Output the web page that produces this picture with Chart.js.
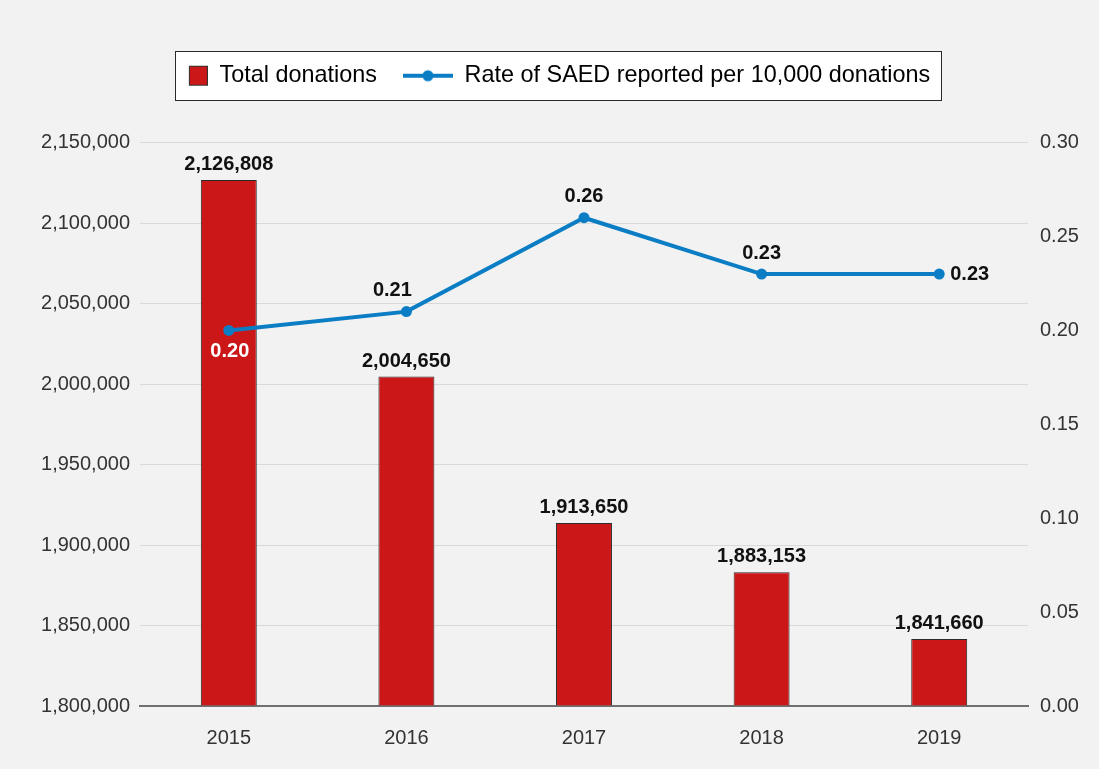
<!DOCTYPE html>
<html>
<head>
<meta charset="utf-8">
<title>Total donations and SAED rate</title>
<script src="https://cdn.jsdelivr.net/npm/chart.js@4/dist/chart.umd.min.js"></script>
<style>
    html, body { margin: 0; padding: 0; background: #f2f2f2; }
    #wrap { width: 1099px; height: 769px; }
</style>
</head>
<body>
<div id="wrap"><canvas id="donationsChart" width="1099" height="769"></canvas></div>
<script>
// Dados
const years = ['2015', '2016', '2017', '2018', '2019'];
const totalDonations = [2126808, 2004650, 1913650, 1883153, 1841660];
const saedRate = [0.20, 0.21, 0.26, 0.23, 0.23];

// Eixos
const leftAxisMin = 1800000;
const leftAxisMax = 2150000;
const leftAxisStep = 50000;
const rightAxisMin = 0;
const rightAxisMax = 0.30;
const rightAxisStep = 0.05;

// Cores e estilos
const barRed = '#cc1719';
const lineBlue = '#0a7dc4';
const fontFamily = '"Liberation Sans", Arial, Helvetica, sans-serif';

// Onde fica o rótulo de cada ponto da linha
const rateLabelPlacement = ['below', 'above', 'above', 'above', 'right'];

// Ícones da legenda
function rectIcon() {
    const c = document.createElement('canvas');
    c.width = 50; c.height = 22;
    const g = c.getContext('2d');
    g.fillStyle = barRed;
    g.fillRect(31, 1, 19, 20);
    g.strokeStyle = '#333';
    g.lineWidth = 1;
    g.strokeRect(31.5, 1.5, 18, 19);
    return c;
}
function lineIcon() {
    const c = document.createElement('canvas');
    c.width = 50; c.height = 22;
    const g = c.getContext('2d');
    g.strokeStyle = lineBlue;
    g.lineWidth = 4;
    g.beginPath();
    g.moveTo(0, 11); g.lineTo(50, 11);
    g.stroke();
    g.fillStyle = lineBlue;
    g.beginPath();
    g.arc(25, 11, 5.5, 0, Math.PI * 2);
    g.fill();
    return c;
}

// Fundo e caixa da legenda
const backgroundPlugin = {
    id: 'backgroundPlugin',
    beforeDraw(chart) {
        const ctx = chart.ctx;
        ctx.save();
        ctx.fillStyle = '#f2f2f2';
        ctx.fillRect(0, 0, chart.width, chart.height);
        const hits = chart.legend && chart.legend.legendHitBoxes;
        if (hits && hits.length) {
            const first = hits[0];
            const last = hits[hits.length - 1];
            const left = first.left + 31 - 14;
            const right = last.left + last.width + 11;
            const cy = first.top + first.height / 2;
            ctx.fillStyle = '#ffffff';
            ctx.fillRect(left, cy - 24.5, right - left, 49);
            ctx.strokeStyle = '#2a2a2a';
            ctx.lineWidth = 1;
            ctx.strokeRect(Math.round(left) + 0.5, Math.round(cy - 24.5) + 0.5, Math.round(right - left), 49);
        }
        ctx.restore();
    }
};

// Rótulos de valores
const valueLabelsPlugin = {
    id: 'valueLabelsPlugin',
    afterDatasetsDraw(chart) {
        const ctx = chart.ctx;
        ctx.save();
        ctx.font = 'bold 20px ' + fontFamily;
        ctx.fillStyle = '#111';
        ctx.textAlign = 'center';
        ctx.textBaseline = 'alphabetic';
        chart.getDatasetMeta(0).data.forEach((bar, i) => {
            ctx.fillText(totalDonations[i].toLocaleString('en-US'), bar.x, bar.y - 10);
        });
        ctx.textBaseline = 'middle';
        chart.getDatasetMeta(1).data.forEach((pt, i) => {
            const txt = saedRate[i].toFixed(2);
            const where = rateLabelPlacement[i];
            if (where === 'below') {
                ctx.fillStyle = '#ffffff';
                ctx.textAlign = 'center';
                ctx.fillText(txt, pt.x + 1, pt.y + 21);
            } else if (where === 'right') {
                ctx.fillStyle = '#111';
                ctx.textAlign = 'left';
                ctx.fillText(txt, pt.x + 11, pt.y);
            } else {
                ctx.fillStyle = '#111';
                ctx.textAlign = 'center';
                const dx = i === 1 ? -14 : 0;
                ctx.fillText(txt, pt.x + dx, pt.y - 21);
            }
        });
        ctx.restore();
    }
};

const ctx = document.getElementById('donationsChart').getContext('2d');
new Chart(ctx, {
    type: 'bar',
    data: {
        labels: years,
        datasets: [{
            type: 'bar',
            label: 'Total donations',
            data: totalDonations,
            backgroundColor: barRed,
            borderColor: '#2a2a2a',
            borderWidth: 1,
            base: leftAxisMin,
            categoryPercentage: 1,
            barPercentage: 0.315,
            yAxisID: 'y',
            order: 2
        }, {
            type: 'line',
            label: 'Rate of SAED reported per 10,000 donations',
            data: saedRate,
            borderColor: lineBlue,
            backgroundColor: lineBlue,
            borderWidth: 4,
            pointRadius: 5.5,
            pointBackgroundColor: lineBlue,
            pointBorderWidth: 0,
            tension: 0,
            yAxisID: 'y1',
            order: 1
        }]
    },
    options: {
        responsive: false,
        animation: false,
        layout: { padding: { left: 10, right: 21, top: 38, bottom: 0 } },
        plugins: {
            tooltip: { enabled: false },
            title: {
                display: true,
                text: '',
                font: { size: 1 },
                padding: { top: 44, bottom: 0 }
            },
            legend: {
                display: true,
                position: 'top',
                weight: 3000,
                labels: {
                    usePointStyle: true,
                    pointStyleWidth: 50,
                    padding: 26,
                    color: '#222',
                    font: { family: fontFamily, size: 23.4 },
                    generateLabels() {
                        return [
                            { text: 'Total donations', pointStyle: rectIcon(), fillStyle: barRed, strokeStyle: '#333', lineWidth: 0, datasetIndex: 0, hidden: false },
                            { text: 'Rate of SAED reported per 10,000 donations', pointStyle: lineIcon(), fillStyle: lineBlue, strokeStyle: lineBlue, lineWidth: 0, datasetIndex: 1, hidden: false }
                        ];
                    }
                }
            }
        },
        scales: {
            x: {
                grid: { display: false },
                border: { display: true, color: '#707070', width: 2 },
                ticks: { color: '#333', padding: 12, font: { family: fontFamily, size: 20 } },
                afterFit(scale) { scale.height = 63; }
            },
            y: {
                position: 'left',
                min: leftAxisMin,
                max: leftAxisMax,
                grid: {
                    drawTicks: false,
                    color: c => c.index === 0 ? 'rgba(0,0,0,0)' : '#d9d9d9'
                },
                border: { display: false },
                ticks: {
                    stepSize: leftAxisStep,
                    padding: 10,
                    color: '#333',
                    font: { family: fontFamily, size: 20 },
                    callback: v => v.toLocaleString('en-US')
                },
                afterFit(scale) { scale.width = 130; }
            },
            y1: {
                position: 'right',
                min: rightAxisMin,
                max: rightAxisMax,
                grid: { display: false, drawTicks: false },
                border: { display: false },
                ticks: {
                    stepSize: rightAxisStep,
                    padding: 12,
                    color: '#333',
                    font: { family: fontFamily, size: 20 },
                    callback: v => v.toFixed(2)
                },
                afterFit(scale) { scale.width = 50; }
            }
        }
    },
    plugins: [backgroundPlugin, valueLabelsPlugin]
});
</script>
</body>
</html>
